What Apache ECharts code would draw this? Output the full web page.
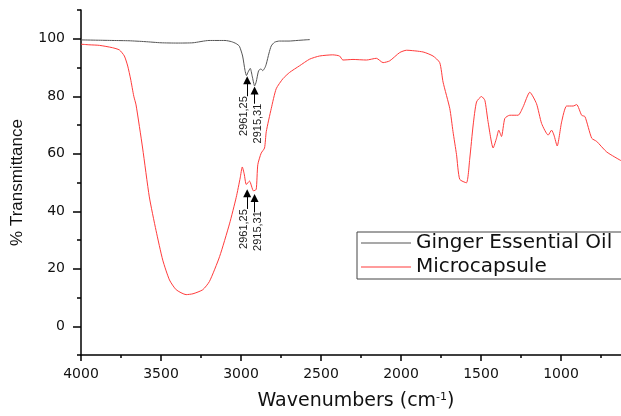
<!DOCTYPE html>
<html>
<head>
<meta charset="utf-8">
<script src="https://cdn.jsdelivr.net/npm/echarts@6/dist/echarts.min.js"></script>
<style>
html,body{margin:0;padding:0;background:#fff;}
#chart{width:621px;height:416px;}
</style>
</head>
<body>
<div id="chart"></div>
<script>
// ---- data ----
const gingerWavenumbers = [4000,3900,3800,3700,3600,3500,3400,3300,3200,3100,3060,3030,3010,2990,2975,2966,2955,2942,2930,2915,2905,2890,2875,2864,2850,2842,2825,2811,2790,2760,2700,2650,2600,2570];
const gingerTransmittance = [99.6,99.5,99.4,99.3,99.0,98.6,98.5,98.6,99.4,99.4,99.0,98.3,97.4,94.0,89.0,87.2,88.5,89.7,87.0,83.6,85.0,88.9,89.5,88.9,90.0,91.2,95.0,97.5,98.8,99.2,99.2,99.4,99.6,99.7];

const capsuleWavenumbers = [4000,3950,3885,3804,3760,3729,3708,3690,3670,3656,3615,3573,3531,3489,3447,3405,3343,3300,3239,3197,3134,3072,3030,3005,2992,2980,2967,2947,2922,2905,2895,2874,2853,2842,2811,2780,2738,2696,2634,2571,2509,2427,2384,2363,2300,2216,2154,2112,2071,2008,1966,1862,1800,1758,1737,1695,1675,1653,1633,1591,1570,1549,1528,1497,1476,1456,1424,1403,1389,1372,1351,1320,1268,1237,1195,1153,1121,1080,1059,1044,1024,996,965,924,902,871,850,808,777,714,625];
const capsuleTransmittance = [98.1,97.9,97.7,96.9,96.1,94.0,90.5,86.0,80.0,77.0,62.0,45.0,33.3,23.0,16.1,12.7,11.0,11.3,12.7,15.6,24.2,35.6,44.8,51.6,55.4,53.0,49.3,50.5,47.1,47.6,56.2,60.2,62.0,67.7,75.7,82.6,86.1,88.3,90.6,92.9,94.0,94.4,94.0,92.6,92.8,92.6,93.2,91.7,92.3,95.2,96.0,95.4,94.0,91.7,84.9,75.7,67.7,59.7,51.1,49.9,58.5,70.0,78.0,79.9,78.6,71.2,62.0,65.4,68.2,66.0,72.3,73.4,73.4,76.3,81.4,77.4,70.5,66.5,68.2,66.5,62.7,71.1,76.6,76.6,77.1,73.4,72.9,65.4,64.3,60.6,57.6];

const seriesNames = ['Ginger Essential Oil', 'Microcapsule'];
const xTickLabels = [4000,3500,3000,2500,2000,1500,1000];
const xMinorTicks = [3750,3250,2750,2250,1750,1250,750];
const yTickLabels = [0,20,40,60,80,100];
const yMinorTicks = [-10,10,30,50,70,90,110];

// peak annotations: [wavenumber, arrow base, arrow tip, label centre wavenumber, label centre value, text]
const gingerPeaks = [
  [2961.25, 80.0, 85.6, 2980, 73.1, '2961,25'],
  [2915.31, 77.4, 82.0, 2893, 70.5, '2915,31']
];
const capsulePeaks = [
  [2961.25, 40.8, 46.3, 2980, 33.8, '2961,25'],
  [2915.31, 39.6, 44.6, 2893, 33.1, '2915,31']
];

function pairs(xs, ys){ return xs.map((x,i)=>[x, ys[i]]); }
function arrowLines(peaks){
  return peaks.map(p => [{coord:[p[0], p[1]]}, {coord:[p[0], p[2]]}]);
}
function peakTexts(peaks){
  return peaks.map(p => ({coord:[p[3], p[4]], value:p[5]}));
}
function markLineCfg(peaks){
  return {
    silent:true, animation:false,
    symbol:['none','triangle'], symbolSize:8,
    lineStyle:{color:'#000', width:1, type:'solid'},
    itemStyle:{color:'#000'},
    label:{show:false},
    emphasis:{disabled:true},
    data: arrowLines(peaks)
  };
}
function markPointCfg(peaks){
  return {
    silent:true, animation:false,
    symbol:'circle', symbolSize:1,
    itemStyle:{color:'rgba(0,0,0,0)'},
    label:{show:true, position:'inside', rotate:90, align:'center', verticalAlign:'middle',
      fontFamily:'Liberation Sans', fontSize:11, color:'#1a1a1a',
      formatter: p => p.value},
    data: peakTexts(peaks)
  };
}

const chart = echarts.init(document.getElementById('chart'), null, {renderer:'canvas'});
const tickFont = {fontFamily:'DejaVu Sans', fontSize:14, color:'#111', formatter: v => String(v)};
const axisBlack = {color:'#000', width:1.5};
chart.setOption({
  animation:false,
  backgroundColor:'#fff',
  grid:{left:81, top:10, bottom:57, right:0},
  legend:{
    left:357, top:232, orient:'vertical',
    data:seriesNames.map(n => ({name:n, icon:'rect'})),
    itemWidth:50, itemHeight:1.2, itemGap:4,
    padding:[1,12,2,4],
    borderColor:'#444', borderWidth:1, backgroundColor:'#fff',
    textStyle:{fontFamily:'DejaVu Sans', fontSize:20, color:'#111', lineHeight:20},
    selectedMode:false
  },
  xAxis:[{
    type:'value', inverse:true, min:625, max:4000, position:'bottom',
    name:'Wavenumbers (cm{sup|-1})', nameLocation:'middle', nameGap:37,
    nameTextStyle:{fontFamily:'DejaVu Sans', fontSize:19, color:'#111', padding:[0,0,0,10],
      rich:{sup:{fontFamily:'DejaVu Sans', fontSize:11, verticalAlign:'top', padding:[0,0,8,0], color:'#111'}}},
    axisLine:{show:true, onZero:false, lineStyle:axisBlack},
    axisTick:{show:true, inside:false, length:6, customValues:xTickLabels, lineStyle:axisBlack},
    splitLine:{show:false},
    axisLabel:{...tickFont, margin:12, customValues:xTickLabels}
  },{
    type:'value', inverse:true, min:625, max:4000, position:'bottom', offset:0,
    axisLine:{show:false, onZero:false},
    axisTick:{show:true, inside:false, length:3, customValues:xMinorTicks, lineStyle:axisBlack},
    axisLabel:{show:false, customValues:xMinorTicks},
    splitLine:{show:false}
  }],
  yAxis:[{
    type:'value', min:-10, max:110, position:'left',
    name:'% Transmittance', nameLocation:'middle', nameGap:55, nameRotate:90,
    nameTextStyle:{fontFamily:'Liberation Sans', fontSize:17, color:'#111'},
    axisLine:{show:true, onZero:false, lineStyle:axisBlack},
    axisTick:{show:true, inside:false, length:8, customValues:yTickLabels, lineStyle:axisBlack},
    splitLine:{show:false},
    axisLabel:{...tickFont, margin:16, customValues:yTickLabels}
  },{
    type:'value', min:-10, max:110, position:'left', offset:0,
    axisLine:{show:false, onZero:false},
    axisTick:{show:true, inside:false, length:4, customValues:yMinorTicks, lineStyle:axisBlack},
    axisLabel:{show:false, customValues:yMinorTicks},
    splitLine:{show:false}
  }],
  series:[{
    name:seriesNames[0], type:'line', xAxisIndex:0, yAxisIndex:0,
    data:pairs(gingerWavenumbers, gingerTransmittance),
    symbol:'none', smooth:0.2,
    lineStyle:{color:'#555', width:1},
    itemStyle:{color:'#555'},
    markLine:markLineCfg(gingerPeaks),
    markPoint:markPointCfg(gingerPeaks),
    z:3
  },{
    name:seriesNames[1], type:'line', xAxisIndex:0, yAxisIndex:0,
    data:pairs(capsuleWavenumbers, capsuleTransmittance),
    symbol:'none', smooth:0.2,
    lineStyle:{color:'#ff3b3b', width:1},
    itemStyle:{color:'#ff3b3b'},
    markLine:markLineCfg(capsulePeaks),
    markPoint:markPointCfg(capsulePeaks),
    z:2
  }]
});
</script>
</body>
</html>
